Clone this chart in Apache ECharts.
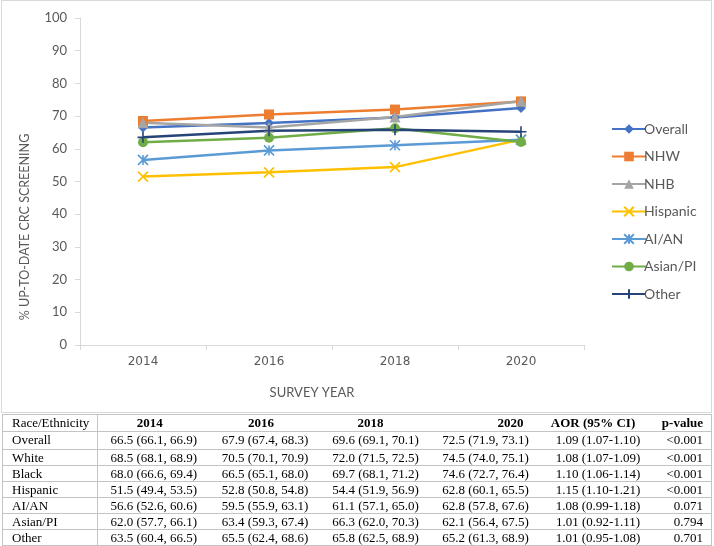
<!DOCTYPE html>
<html>
<head>
<meta charset="utf-8">
<script src="https://cdn.jsdelivr.net/npm/echarts@6/dist/echarts.min.js"></script>
<style>
  html, body { margin:0; padding:0; background:#fff; }
  #wrap { position:relative; width:714px; height:546px; overflow:hidden; }
  #chart { position:absolute; left:0; top:0; width:714px; height:413px; }
  #frame { position:absolute; left:1px; top:0; width:709px; height:411px; border:1px solid #d9d9d9; pointer-events:none; }
  #tbl { position:absolute; left:2px; top:414px; width:709px; border-collapse:collapse; table-layout:fixed;
         font-family:"Liberation Serif","Times New Roman",serif; font-size:13px; color:#000; }
  #tbl td, #tbl th { padding:0; height:15px; line-height:15px; border-top:1px solid #c4c4c4; border-bottom:1px solid #c4c4c4; white-space:nowrap; overflow:visible; }
  #tbl th { font-weight:bold; text-align:center; height:16px; line-height:16px; }
  #tbl td { text-align:center; }
  #tbl .c0 { text-align:left; padding-left:9px; border-left:1px solid #c4c4c4; border-right:1px solid #c4c4c4; font-weight:normal; }
  #tbl .last { text-align:right; padding-right:8px; border-right:1px solid #c4c4c4; }
  #tbl tr.ov td { height:17px; vertical-align:top; }
</style>
</head>
<body>
<div id="wrap">
  <div id="chart"></div>
  <div id="frame"></div>
  <table id="tbl"></table>
</div>
<script>
// ---- data ----
const years = ['2014', '2016', '2018', '2020'];
const seriesNames = ['Overall', 'NHW', 'NHB', 'Hispanic', 'AI/AN', 'Asian/PI', 'Other'];
const overall  = [66.5, 67.9, 69.6, 72.5];
const nhw      = [68.5, 70.5, 72.0, 74.5];
const nhb      = [68.0, 66.5, 69.7, 74.6];
const hispanic = [51.5, 52.8, 54.4, 62.8];
const aian     = [56.6, 59.5, 61.1, 62.8];
const asianpi  = [62.0, 63.4, 66.3, 62.1];
const other    = [63.5, 65.5, 65.8, 65.2];
const yTicks   = [0, 100, 10]; // min, max, interval

// table data
const tableHeader = ['Race/Ethnicity', '2014', '2016', '2018', '2020', 'AOR (95% CI)', 'p-value'];
const tableRowNames = ['Overall', 'White', 'Black', 'Hispanic', 'AI/AN', 'Asian/PI', 'Other'];
const ci2014 = ['66.5 (66.1, 66.9)', '68.5 (68.1, 68.9)', '68.0 (66.6, 69.4)', '51.5 (49.4, 53.5)', '56.6 (52.6, 60.6)', '62.0 (57.7, 66.1)', '63.5 (60.4, 66.5)'];
const ci2016 = ['67.9 (67.4, 68.3)', '70.5 (70.1, 70.9)', '66.5 (65.1, 68.0)', '52.8 (50.8, 54.8)', '59.5 (55.9, 63.1)', '63.4 (59.3, 67.4)', '65.5 (62.4, 68.6)'];
const ci2018 = ['69.6 (69.1, 70.1)', '72.0 (71.5, 72.5)', '69.7 (68.1, 71.2)', '54.4 (51.9, 56.9)', '61.1 (57.1, 65.0)', '66.3 (62.0, 70.3)', '65.8 (62.5, 68.9)'];
const ci2020 = ['72.5 (71.9, 73.1)', '74.5 (74.0, 75.1)', '74.6 (72.7, 76.4)', '62.8 (60.1, 65.5)', '62.8 (57.8, 67.6)', '62.1 (56.4, 67.5)', '65.2 (61.3, 68.9)'];
const aor = ['1.09 (1.07-1.10)', '1.08 (1.07-1.09)', '1.10 (1.06-1.14)', '1.15 (1.10-1.21)', '1.08 (0.99-1.18)', '1.01 (0.92-1.11)', '1.01 (0.95-1.08)'];
const pvals = ['<0.001', '<0.001', '<0.001', '<0.001', '0.071', '0.794', '0.701'];

// ---- styles ----
const colors = ['#4472C4', '#ED7D31', '#A5A5A5', '#FFC000', '#5B9BD5', '#70AD47', '#264478'];
const symbols = ['diamond', 'rect', 'triangle',
  'path://M0,0L10,10M10,0L0,10',
  'path://M0,0L10,10M10,0L0,10M5,0L5,10',
  'circle',
  'path://M5,0L5,10M0,5L10,5'];
const symSizes = [10, 10, 11, 10, 10, 10, 11];
const strokeSym = [false, false, false, true, true, false, true];
const allData = [overall, nhw, nhb, hispanic, aian, asianpi, other];

const chart = echarts.init(document.getElementById('chart'), null, { renderer: 'canvas' });
const gray = '#595959';
const axisColor = '#d9d9d9';

const series = seriesNames.map((n, i) => ({
  name: n,
  type: 'line',
  data: allData[i],
  symbol: symbols[i],
  symbolSize: symSizes[i],
  showAllSymbol: true,
  lineStyle: { color: colors[i], width: 2.5 },
  itemStyle: strokeSym[i]
    ? { color: colors[i], borderColor: colors[i], borderWidth: 1.6 }
    : { color: colors[i], borderWidth: 0 },
  emphasis: { disabled: true },
  animation: false
}));

chart.setOption({
  animation: false,
  grid: { left: 80, right: 130, top: 18, bottom: 68 },
  xAxis: {
    type: 'category',
    data: years,
    boundaryGap: true,
    axisLine: { lineStyle: { color: axisColor, width: 1 } },
    axisTick: { show: true, length: 5, lineStyle: { color: axisColor } },
    axisLabel: { color: gray, fontFamily: 'DejaVu Sans', fontSize: 12, margin: 11 },
    splitLine: { show: false }
  },
  yAxis: {
    type: 'value',
    min: yTicks[0], max: yTicks[1], interval: yTicks[2],
    axisLine: { show: true, lineStyle: { color: axisColor, width: 1 } },
    axisTick: { show: true, length: 5, lineStyle: { color: axisColor } },
    axisLabel: { color: gray, fontFamily: 'Lato', fontSize: 13, margin: 13 },
    splitLine: { show: false }
  },
  legend: {
    orient: 'vertical',
    left: 606, top: 117,
    itemWidth: 34, itemHeight: 12, itemGap: 13.5,
    data: seriesNames,
    textStyle: { color: gray, fontFamily: 'Lato', fontSize: 14, lineHeight: 14, padding: [0, 0, 0, -7] },
    selectedMode: false
  },
  graphic: [
    { type: 'text', x: 25, y: 227, rotation: Math.PI / 2,
      style: { text: '% UP-TO-DATE CRC SCREENING', fill: gray, font: '12.5px Lato', align: 'center', verticalAlign: 'middle' } },
    { type: 'text', x: 312, y: 393,
      style: { text: 'SURVEY YEAR', fill: gray, font: '13px Lato', align: 'center', verticalAlign: 'middle' } }
  ],
  series: series
});

// ---- table ----
const tbl = document.getElementById('tbl');
const colW = [95, 112, 111, 110, 110, 115, 56];
const cg = document.createElement('colgroup');
colW.forEach(w => { const c = document.createElement('col'); c.style.width = w + 'px'; cg.appendChild(c); });
tbl.appendChild(cg);
const hdrPad = ['', 'padding-right:8px', 'padding-right:8px', 'padding-right:10px', 'padding-left:50px', 'padding-right:10px', ''];
const trh = document.createElement('tr');
tableHeader.forEach((h, j) => {
  const th = document.createElement('th');
  th.textContent = h;
  if (j === 0) th.className = 'c0';
  if (j === tableHeader.length - 1) th.className = 'last';
  if (hdrPad[j]) th.setAttribute('style', hdrPad[j]);
  trh.appendChild(th);
});
tbl.appendChild(trh);
tableRowNames.forEach((name, i) => {
  const tr = document.createElement('tr');
  if (i === 0) tr.className = 'ov';
  const cells = [name, ci2014[i], ci2016[i], ci2018[i], ci2020[i], aor[i], pvals[i]];
  cells.forEach((v, j) => {
    const td = document.createElement('td');
    td.textContent = v;
    if (j === 0) td.className = 'c0';
    if (j === cells.length - 1) td.className = 'last';
    tr.appendChild(td);
  });
  tbl.appendChild(tr);
});
</script>
</body>
</html>
